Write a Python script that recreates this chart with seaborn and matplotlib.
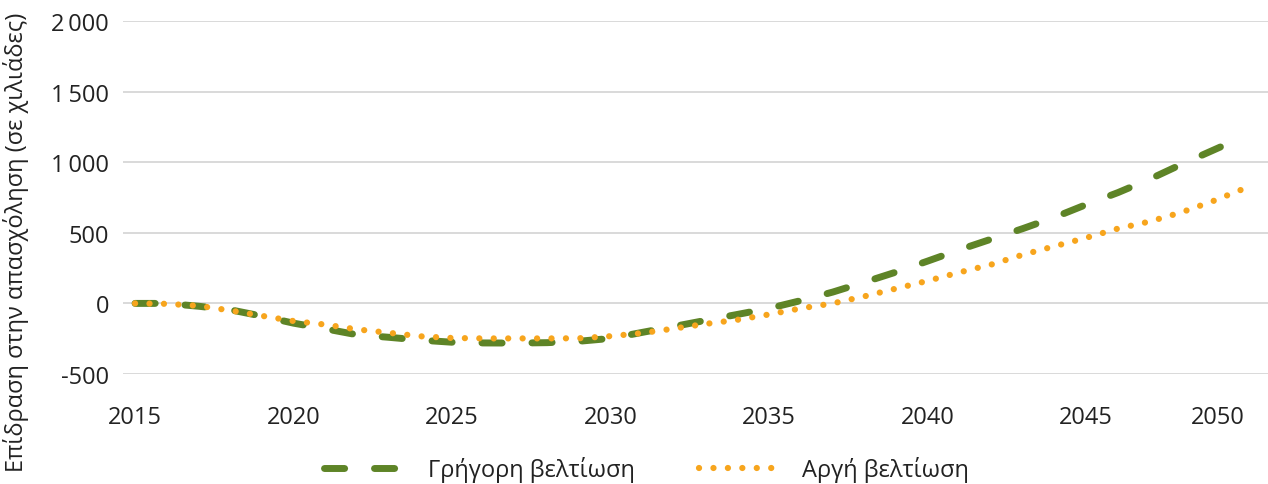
import matplotlib
matplotlib.use("Agg")
import matplotlib.pyplot as plt
from matplotlib.ticker import FuncFormatter
import seaborn as sns
import pandas as pd

# values (thousands of jobs)
years = list(range(2015, 2051))
fast = [0, 0, -20, -45, -90, -140, -180, -222, -240, -260, -275, -280, -281, -278,
        -268, -248, -205, -163, -120, -78, -35, 20, 80, 150, 222, 300, 380, 455,
        530, 610, 700, 785, 880, 985, 1085, 1185]
slow = [0, -3, -17, -50, -88, -125, -150, -184, -208, -233, -245, -248, -248, -248,
        -247, -232, -210, -178, -145, -116, -78, -35, 0, 50, 105, 160, 220, 275,
        345, 405, 465, 530, 580, 645, 725, 815]
names = ["Γρήγορη βελτίωση", "Αργή βελτίωση"]
colors = ["#5E8427", "#F7A51D"]

df = pd.DataFrame({
    "year": years * 2,
    "value": fast + slow,
    "scenario": [names[0]] * len(years) + [names[1]] * len(years),
})

sns.set_theme(style="white")
plt.rcParams["font.family"] = ["Open Sans", "DejaVu Sans"]
plt.rcParams["lines.dash_capstyle"] = "round"
plt.rcParams["lines.solid_capstyle"] = "round"

fig = plt.figure(figsize=(12.68, 4.85), dpi=100)
ax = fig.add_axes([0.097, 0.2268, 0.903, 0.7278])

sns.lineplot(data=df, x="year", y="value", hue="scenario", style="scenario",
             size="scenario", palette=dict(zip(names, colors)),
             dashes={names[0]: (2.9, 4.3), names[1]: (0.01, 2.3)},
             sizes={names[0]: 5.0, names[1]: 4.5},
             ax=ax)

ax.set_xlim(2014.62, 2050.73)
ax.set_ylim(-500, 2000)
ax.set_xticks(range(2015, 2051, 5))
ax.set_yticks(range(-500, 2001, 500))
ax.yaxis.set_major_formatter(FuncFormatter(lambda v, p: f"{v:,.0f}".replace(",", "\u2009")))
ax.grid(axis="y", color="#d9d9d9", linewidth=1.4)
ax.grid(axis="x", visible=False)
for s in ax.spines.values():
    s.set_visible(False)
ax.tick_params(axis="both", length=0, labelsize=17, colors="#222222")
ax.tick_params(axis="x", pad=22)
ax.tick_params(axis="y", pad=10)
xt = ax.get_xticklabels()
xt[-1].set_horizontalalignment("right")
xt[-1].set_x(2050.2)
ax.set_xlabel("")
ax.set_ylabel("Επίδραση στην απασχόληση (σε χιλιάδες)", fontsize=17, color="#222222")
ax.yaxis.set_label_coords(-0.082, 0.377)

handles, labels = ax.get_legend_handles_labels()
ax.get_legend().remove()
fig.legend(handles, labels, loc="lower center", bbox_to_anchor=(0.51, -0.04), ncol=2,
           frameon=False, fontsize=17, handlelength=3.3, handletextpad=1.1,
           columnspacing=2.7, labelcolor="#222222")

fig.savefig("out.png", dpi=100)
